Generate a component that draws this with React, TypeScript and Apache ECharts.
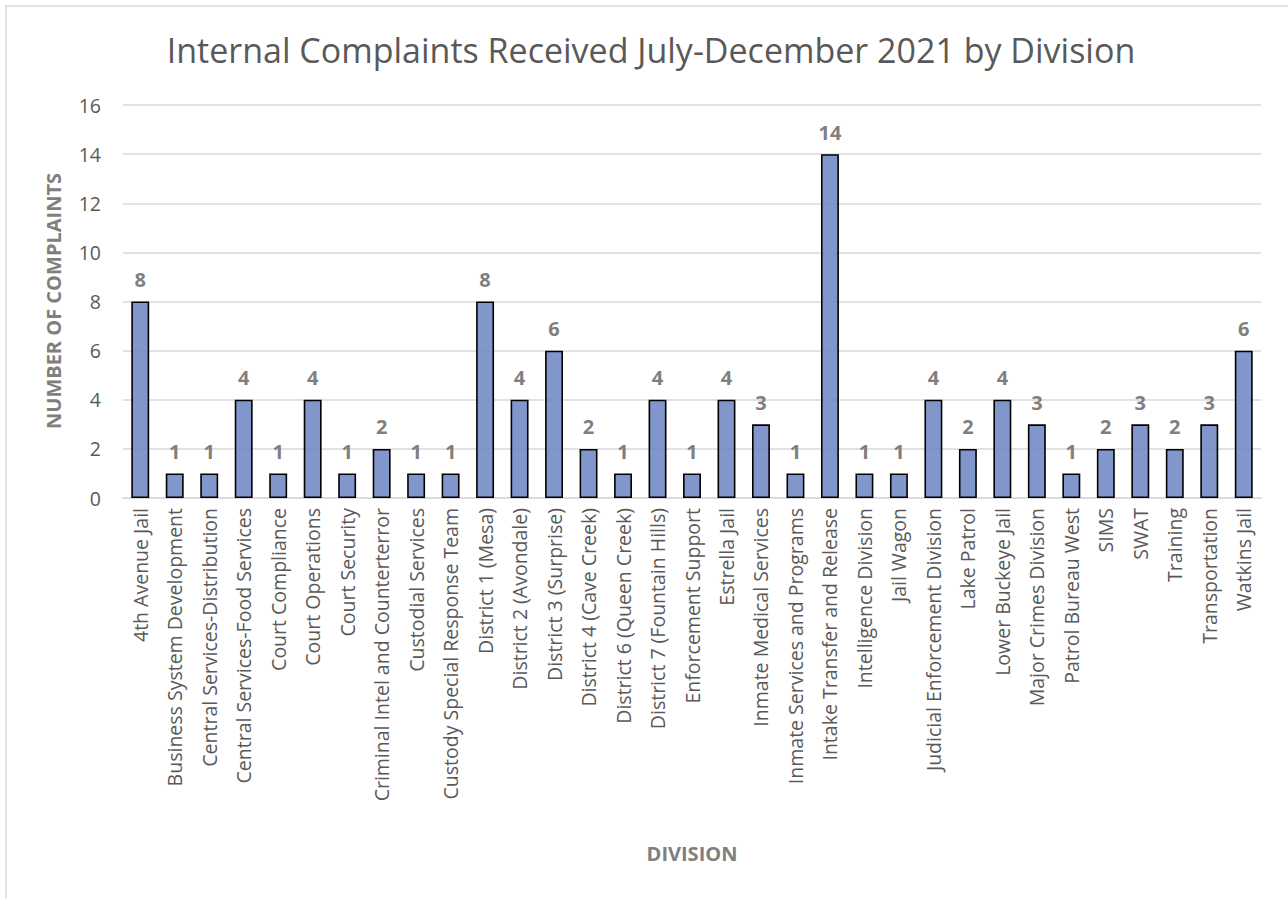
import React, { useEffect, useRef } from "react";
import * as echarts from "echarts";

const titleText = "Internal Complaints Received July-December 2021 by Division";
const divisions = [
  "4th Avenue Jail",
  "Business System Development",
  "Central Services-Distribution",
  "Central Services-Food Services",
  "Court Compliance",
  "Court Operations",
  "Court Security",
  "Criminal Intel and Counterterror",
  "Custodial Services",
  "Custody Special Response Team",
  "District 1 (Mesa)",
  "District 2 (Avondale)",
  "District 3 (Surprise)",
  "District 4 (Cave Creek)",
  "District 6 (Queen Creek)",
  "District 7 (Fountain Hills)",
  "Enforcement Support",
  "Estrella Jail",
  "Inmate Medical Services",
  "Inmate Services and Programs",
  "Intake Transfer and Release",
  "Intelligence Division",
  "Jail Wagon",
  "Judicial Enforcement Division",
  "Lake Patrol",
  "Lower Buckeye Jail",
  "Major Crimes Division",
  "Patrol Bureau West",
  "SIMS",
  "SWAT",
  "Training",
  "Transportation",
  "Watkins Jail",
];
const complaints = [8, 1, 1, 4, 1, 4, 1, 2, 1, 1, 8, 4, 6, 2, 1, 4, 1, 4, 3, 1, 14, 1, 1, 4, 2, 4, 3, 1, 2, 3, 2, 3, 6];
const yAxisName = "NUMBER OF COMPLAINTS";
const xAxisName = "DIVISION";

const FONT = "'Open Sans', 'Liberation Sans', sans-serif";

export default function App() {
  const ref = useRef<HTMLDivElement>(null);
  useEffect(() => {
    if (!ref.current) return;
    const chart = echarts.init(ref.current, null, { renderer: "svg" });
    chart.setOption({
      animation: false,
      backgroundColor: "#ffffff",
      textStyle: { fontFamily: FONT },
      title: {
        text: titleText,
        left: 646,
        textAlign: "center",
        top: 28,
        textStyle: { fontFamily: FONT, fontSize: 34, fontWeight: "normal", color: "#595959" },
      },
      graphic: [
        {
          type: "rect",
          shape: { x: 6, y: 6, width: 1320, height: 1000 },
          style: { fill: "none", stroke: "#d9d9d9", lineWidth: 1.5 },
          silent: true,
        },
        {
          type: "text",
          x: 53,
          y: 301,
          rotation: Math.PI / 2,
          style: {
            text: yAxisName,
            fontFamily: FONT,
            fontSize: 20,
            fontWeight: "bold",
            fill: "#7f7f7f",
            align: "center",
            verticalAlign: "middle",
          },
        },
        {
          type: "text",
          x: 692,
          y: 853,
          style: {
            text: xAxisName,
            fontFamily: FONT,
            fontSize: 20,
            fontWeight: "bold",
            fill: "#7f7f7f",
            align: "center",
            verticalAlign: "middle",
          },
        },
      ],
      grid: { left: 123, right: 27, top: 105, bottom: 400, containLabel: false },
      xAxis: {
        type: "category",
        data: divisions,
        axisLine: { show: true, lineStyle: { color: "#d9d9d9", width: 1.5 } },
        axisTick: { show: false },
        axisLabel: {
          rotate: 90,
          interval: 0,
          fontFamily: FONT,
          fontSize: 19.5,
          color: "#595959",
          margin: 10,
        },
      },
      yAxis: {
        type: "value",
        min: 0,
        max: 16,
        interval: 2,
        axisLine: { show: false },
        axisTick: { show: false },
        splitLine: { lineStyle: { color: "#d9d9d9", width: 1.5 } },
        axisLabel: { fontFamily: FONT, fontSize: 19.5, color: "#595959", margin: 22 },
      },
      series: [
        {
          type: "bar",
          data: complaints,
          barWidth: "52%",
          itemStyle: { color: "rgba(112,137,196,0.88)", borderColor: "#000000", borderWidth: 1.6 },
          label: {
            show: true,
            position: "top",
            distance: 12,
            fontFamily: FONT,
            fontSize: 20,
            fontWeight: "bold",
            color: "#7f7f7f",
          },
          z: 1,
        },
      ],
    });
    return () => chart.dispose();
  }, []);
  return (
    <div
      ref={ref}
      style={{ position: "fixed", left: 0, top: 0, width: 1288, height: 898, background: "#fff" }}
    />
  );
}
